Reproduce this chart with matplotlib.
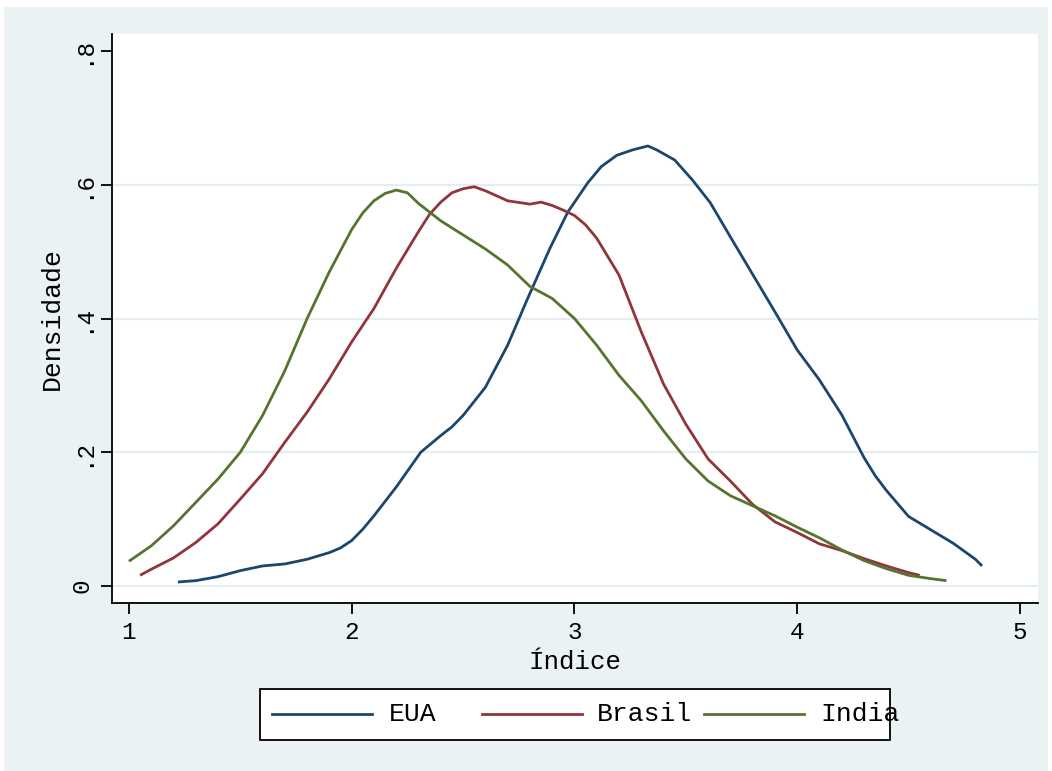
import numpy as np
import matplotlib
matplotlib.use('Agg')
import matplotlib.pyplot as plt
from matplotlib.patches import Rectangle
from matplotlib.lines import Line2D

eua_x = [1.22, 1.3, 1.4, 1.5, 1.6, 1.7, 1.8, 1.9, 1.95, 2.0, 2.05, 2.1,
         2.2, 2.31, 2.4, 2.45, 2.5, 2.6, 2.7, 2.79, 2.89, 2.97, 3.06, 3.12,
         3.19, 3.26, 3.33, 3.37, 3.45, 3.53, 3.61, 3.7, 3.8, 3.9, 4.0, 4.1,
         4.2, 4.25, 4.3, 4.35, 4.4, 4.5, 4.6, 4.7, 4.8, 4.83]
eua_y = [0.006, 0.008, 0.014, 0.023, 0.03, 0.033, 0.04, 0.05, 0.057, 0.068,
         0.085, 0.105, 0.148, 0.2, 0.225, 0.238, 0.255, 0.297, 0.36, 0.43,
         0.505, 0.559, 0.603, 0.627, 0.644, 0.652, 0.658, 0.652, 0.637,
         0.607, 0.573, 0.522, 0.466, 0.41, 0.353, 0.308, 0.256, 0.224,
         0.192, 0.165, 0.143, 0.104, 0.084, 0.064, 0.04, 0.03]

brasil_x = [1.05, 1.1, 1.2, 1.3, 1.4, 1.5, 1.6, 1.7, 1.8, 1.9, 2.0, 2.1,
            2.2, 2.3, 2.35, 2.4, 2.45, 2.5, 2.55, 2.6, 2.7, 2.8, 2.85, 2.9,
            2.95, 3.0, 3.05, 3.1, 3.2, 3.3, 3.4, 3.5, 3.6, 3.7, 3.8, 3.9,
            4.0, 4.1, 4.2, 4.3, 4.4, 4.5, 4.55]
brasil_y = [0.016, 0.025, 0.042, 0.065, 0.093, 0.13, 0.168, 0.215, 0.26,
            0.31, 0.365, 0.415, 0.475, 0.53, 0.556, 0.574, 0.588, 0.594,
            0.597, 0.591, 0.576, 0.571, 0.574, 0.569, 0.562, 0.554, 0.54,
            0.52, 0.465, 0.38, 0.302, 0.242, 0.19, 0.157, 0.122, 0.096,
            0.08, 0.063, 0.053, 0.041, 0.03, 0.02, 0.016]

india_x = [1.0, 1.1, 1.2, 1.3, 1.4, 1.5, 1.6, 1.7, 1.8, 1.9, 2.0, 2.05,
           2.1, 2.15, 2.2, 2.25, 2.3, 2.4, 2.5, 2.6, 2.7, 2.8, 2.9, 3.0,
           3.1, 3.2, 3.3, 3.4, 3.5, 3.6, 3.7, 3.8, 3.9, 4.0, 4.1, 4.2, 4.3,
           4.4, 4.5, 4.6, 4.67]
india_y = [0.037, 0.06, 0.09, 0.125, 0.16, 0.2, 0.255, 0.322, 0.4, 0.47,
           0.533, 0.558, 0.576, 0.587, 0.592, 0.588, 0.572, 0.546, 0.525,
           0.504, 0.48, 0.448, 0.43, 0.4, 0.36, 0.315, 0.277, 0.232, 0.19,
           0.157, 0.135, 0.12, 0.105, 0.088, 0.072, 0.054, 0.038, 0.026,
           0.016, 0.011, 0.008]

series_names = ['EUA', 'Brasil', 'India']
xticks = [1, 2, 3, 4, 5]
yticks = [0, 0.2, 0.4, 0.6, 0.8]
ytick_labels = ['0', '.2', '.4', '.6', '.8']

cores = ['#1a476f', '#90353b', '#55752f']
fundo = '#eaf2f3'
fonte = 'Liberation Mono'

W, H = 1052, 771
fig = plt.figure(figsize=(W / 100, H / 100), dpi=100, facecolor='white')
fig.add_artist(Rectangle((4 / W, 0), 1044 / W, 764 / H, transform=fig.transFigure,
                         facecolor=fundo, edgecolor='none', zorder=-10))

ax = fig.add_axes([112 / W, 1 - 603 / H, 926 / W, 569 / H])
ax.set_facecolor('white')
for x, y, c in zip([eua_x, brasil_x, india_x], [eua_y, brasil_y, india_y], cores):
    ax.plot(x, y, color=c, lw=2.0, solid_capstyle='butt', solid_joinstyle='round')

ax.set_xlim(0.924, 5.081)
ax.set_ylim(-0.0254, 0.8254)
for g in yticks[:-1]:
    ax.axhline(g, color='#e4eef0', lw=1.5, zorder=0)

for s in ['top', 'right']:
    ax.spines[s].set_visible(False)
for s in ['left', 'bottom']:
    ax.spines[s].set_linewidth(1.3)

ax.set_xticks(xticks)
ax.set_xticklabels([str(t) for t in xticks], fontfamily=fonte, fontsize=17.5)
ax.set_yticks(yticks)
ax.set_yticklabels(ytick_labels, fontfamily=fonte, fontsize=17.5,
                   rotation=90, va='center')
ax.tick_params(length=8, width=1.3, pad=5, colors='black')

ax.set_xlabel('Índice', fontfamily=fonte, fontsize=18.5, labelpad=4)
ax.set_ylabel('Densidade', fontfamily=fonte, fontsize=19, labelpad=5)

# legenda desenhada a mao, como no Stata
fig.add_artist(Rectangle((260 / W, 1 - 740 / H), 630 / W, 51 / H,
                         transform=fig.transFigure, facecolor='white',
                         edgecolor='black', lw=1.3))
ly = 1 - 714 / H
for nome, c, x0, xt in zip(series_names, cores, [272, 482, 704], [389, 597, 820]):
    fig.add_artist(Line2D([x0 / W, (x0 + 100) / W], [ly, ly],
                          transform=fig.transFigure, color=c, lw=2.0))
    fig.text(xt / W, ly, nome, fontfamily=fonte, fontsize=19, va='center')

fig.savefig('out.png', dpi=100, facecolor='white')
